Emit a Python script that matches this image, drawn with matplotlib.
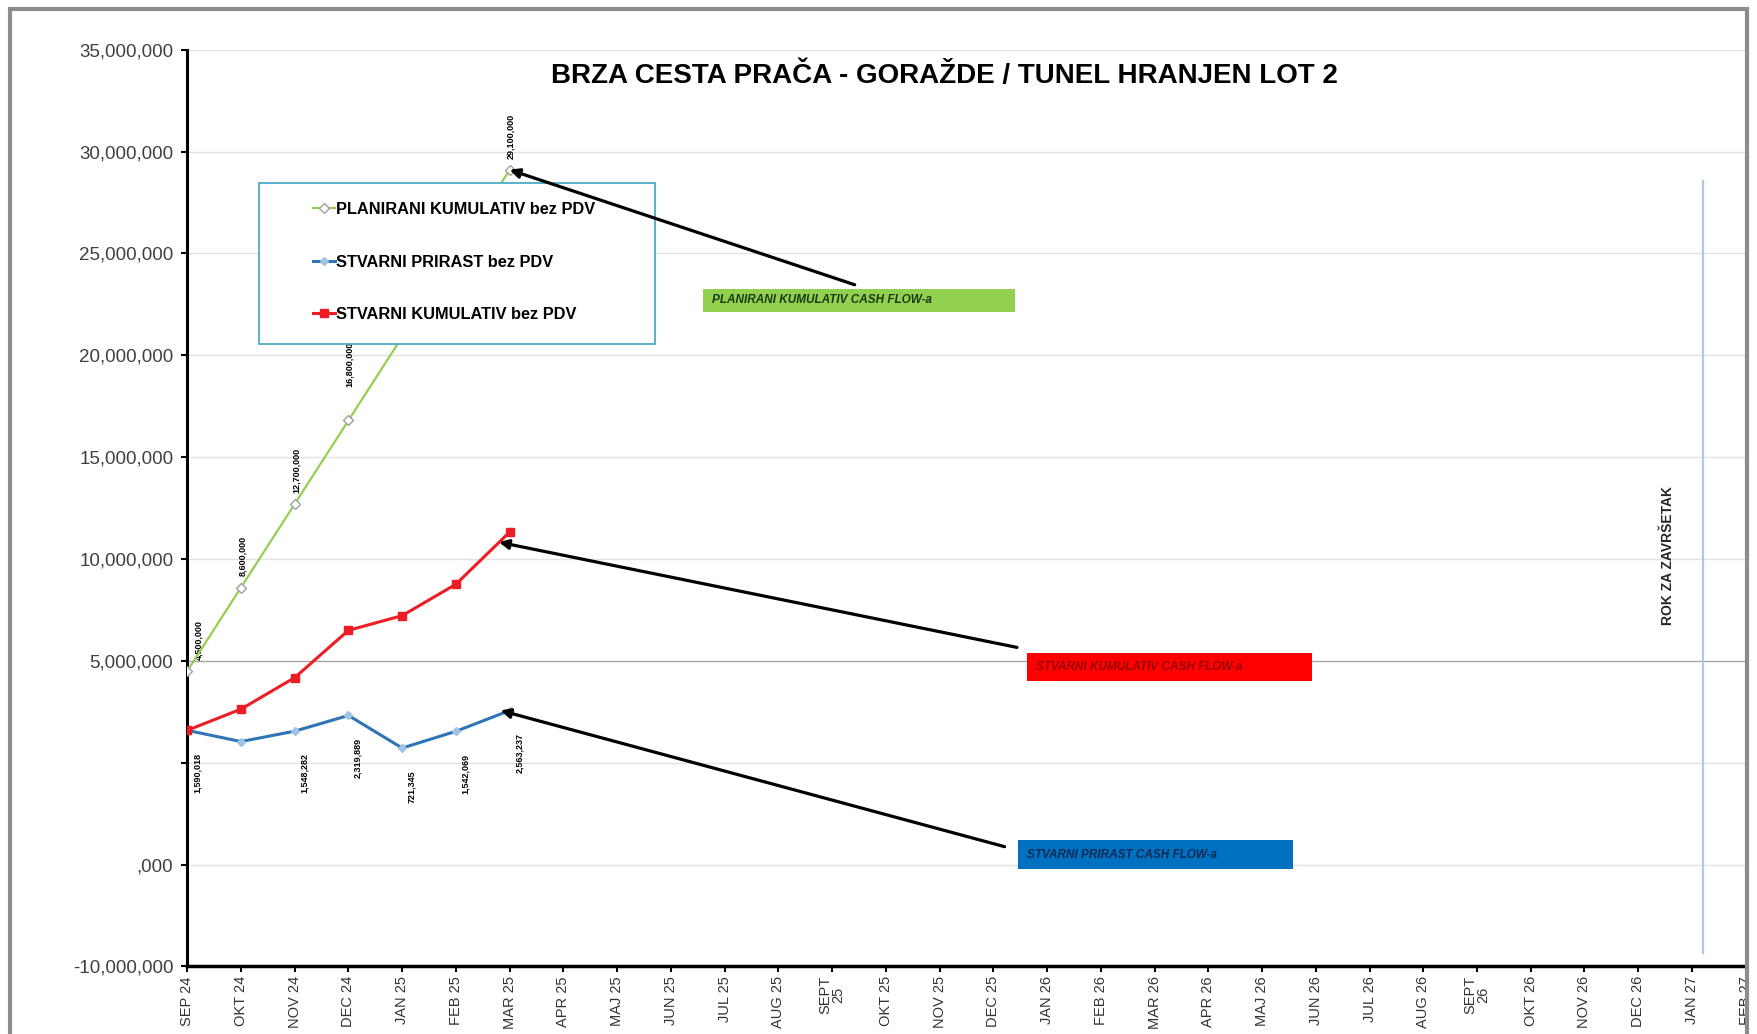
import numpy as np
import matplotlib
matplotlib.use('Agg')
import matplotlib.pyplot as plt
from matplotlib.patches import Rectangle
from matplotlib.ticker import FuncFormatter

plt.rcParams['font.family'] = ['Liberation Sans', 'DejaVu Sans']

# months on the x axis
months = ['SEP 24', 'OKT 24', 'NOV 24', 'DEC 24', 'JAN 25', 'FEB 25', 'MAR 25',
          'APR 25', 'MAJ 25', 'JUN 25', 'JUL 25', 'AUG 25', 'SEPT\n25', 'OKT 25',
          'NOV 25', 'DEC 25', 'JAN 26', 'FEB 26', 'MAR 26', 'APR 26', 'MAJ 26',
          'JUN 26', 'JUL 26', 'AUG 26', 'SEPT\n26', 'OKT 26', 'NOV 26', 'DEC 26',
          'JAN 27', 'FEB 27']

# planned cumulative (green)
planned_cum = [4500000, 8600000, 12700000, 16800000, 20900000, 25000000, 29100000]
planned_labels = ['4,500,000', '8,600,000', '12,700,000', '16,800,000', '', '', '29,100,000']

# actual monthly increment (blue)
actual_inc = [1590018, 1040000, 1548282, 2319889, 721345, 1542069, 2563237]
actual_inc_labels = ['1,590,018', '', '1,548,282', '2,319,889', '721,345', '1,542,069', '2,563,237']

# actual cumulative (red)
actual_cum = np.cumsum(actual_inc)

deadline_idx = 28.2

x_all = np.arange(len(months))
x_data = x_all[:len(planned_cum)]

fig = plt.figure(figsize=(17.58, 10.34), dpi=100)
ax = fig.add_axes([0.1065, 0.0653, 0.8865, 0.8867])

# outer gray frame like the sheet border
fig.patches.append(Rectangle((0.0055, -0.05), 0.9885, 1.0415, transform=fig.transFigure,
                             fill=False, edgecolor='#8c8c8c', lw=3))

ax.set_xlim(0, len(months) - 1)
ax.set_ylim(-10000000, 35000000)

yt = np.arange(-10000000, 35000001, 5000000)
ax.set_yticks(yt)
for v in yt:
    ax.axhline(v, color='#a6a6a6' if v == 5000000 else '#e3e3e3', lw=1.0, zorder=0)


def yfmt(v, pos):
    if v == 0:
        return ''
    if v == -5000000:
        return ',000'
    return '{:,.0f}'.format(v)


ax.yaxis.set_major_formatter(FuncFormatter(yfmt))
ax.tick_params(axis='y', labelsize=13.5, labelcolor='#404040', color='black',
               length=4, width=1.5, pad=6)
ax.set_xticks(x_all)
ax.set_xticklabels(months, rotation=90, fontsize=10.5, color='#333333', linespacing=0.9)
ax.tick_params(axis='x', length=4, width=1.5, pad=3)

for s in ['top', 'right']:
    ax.spines[s].set_visible(False)
ax.spines['left'].set_linewidth(2.2)
ax.spines['bottom'].set_linewidth(2.5)

# series
ax.plot(x_data, planned_cum, color='#92d050', lw=1.6, marker='D', ms=5,
        mfc='white', mec='#a0a0a0', mew=1, label='PLANIRANI KUMULATIV bez PDV', zorder=3)
ax.plot(x_data, actual_inc, color='#2e75b6', lw=2.2, marker='D', ms=4,
        mfc='#9dc3e6', mec='#9dc3e6', label='STVARNI PRIRAST bez PDV', zorder=3)
ax.plot(x_data, actual_cum, color='#ee1c25', lw=2.2, marker='s', ms=6,
        mfc='#ee1c25', mec='#ee1c25', label='STVARNI KUMULATIV bez PDV', zorder=3)

# data labels
for xi, yi, lab in zip(x_data, planned_cum, planned_labels):
    if lab:
        dx = 8 if xi == 0 else 1
        dy = 24 if xi == 3 else 8
        ax.annotate(lab, (xi, yi), xytext=(dx, dy), textcoords='offset points',
                    rotation=90, ha='center', va='bottom', fontsize=6.5, fontweight='bold', zorder=2)
for xi, yi, lab in zip(x_data, actual_inc, actual_inc_labels):
    if lab:
        ax.annotate(lab, (xi, yi), xytext=(7, -16), textcoords='offset points',
                    rotation=90, ha='center', va='top', fontsize=6.5, fontweight='bold', zorder=2)

# legend box
ax.add_patch(Rectangle((0.046, 0.6785), 0.254, 0.176, transform=ax.transAxes,
                       facecolor='white', edgecolor='#4bacc6', lw=1.3, zorder=4))
ax.legend(loc='upper left', bbox_to_anchor=(0.081, 0.834), frameon=False,
          borderaxespad=0, borderpad=0, labelspacing=2.3, handlelength=1.3,
          handletextpad=0.1, prop={'size': 11.8, 'weight': 'bold'})

# title
ax.text(0.486, 0.972, 'BRZA CESTA PRAČA - GORAŽDE / TUNEL HRANJEN LOT 2',
        transform=ax.transAxes, ha='center', va='center', fontsize=20, fontweight='bold')

# callout boxes with arrows
callouts = [
    ('PLANIRANI KUMULATIV CASH FLOW-a', (9.60, 22.14e6, 5.80, 1.10e6), '#92d050', '#1c3a12',
     (12.42, 23.46e6), (6.0, planned_cum[-1])),
    ('STVARNI KUMULATIV CASH FLOW-a', (15.625, 4.01e6, 5.31, 1.375e6), '#ff0000', '#9a0000',
     (15.44, 5.66e6), (5.8, actual_cum[-1] - 0.5e6)),
    ('STVARNI PRIRAST CASH FLOW-a', (15.46, -5.22e6, 5.12, 1.43e6), '#0070c0', '#0d2a55',
     (15.21, -4.12e6), (5.83, actual_inc[-1])),
]
for txt, (bx, by, bw, bh), fc, tc, start, end in callouts:
    ax.add_patch(Rectangle((bx, by), bw, bh, facecolor=fc, edgecolor='none', zorder=2))
    ax.text(bx + 0.17, by + bh / 2, txt, ha='left', va='center', fontsize=8.5,
            fontweight='bold', style='italic', color=tc, zorder=3)
    ax.annotate('', xy=end, xytext=start,
                arrowprops=dict(arrowstyle='-|>', color='black', lw=2.3,
                                mutation_scale=14, shrinkA=0, shrinkB=0), zorder=6)

# deadline line
ax.plot([deadline_idx, deadline_idx], [-9.34e6, 28.57e6], color='#b4c6e7', lw=1.6, zorder=1)
ax.text(27.56, 10.16e6, 'ROK ZA ZAVRŠETAK', rotation=90, ha='center', va='center',
        fontsize=10, fontweight='bold', color='#262626')

fig.savefig('out.png', dpi=100)
